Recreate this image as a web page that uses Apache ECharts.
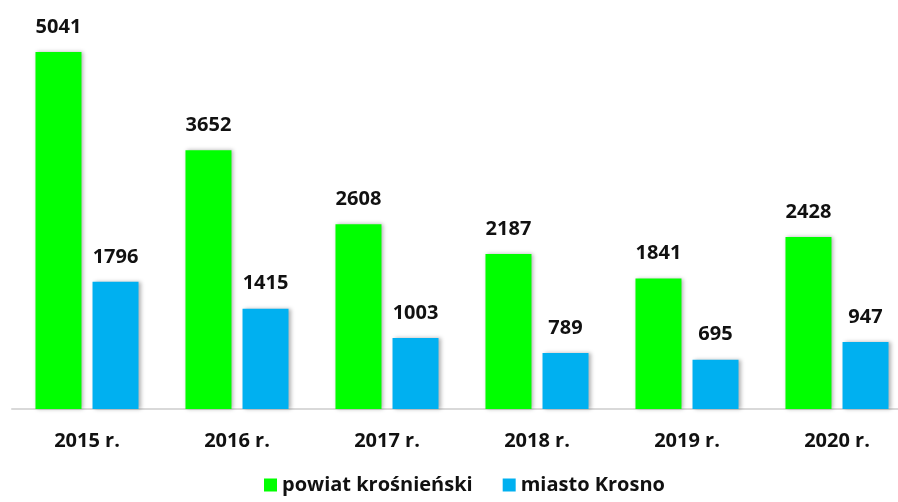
<!DOCTYPE html>
<html>
<head>
<meta charset="utf-8">
<script src="https://cdn.jsdelivr.net/npm/echarts@6/dist/echarts.min.js"></script>
<style>
  html, body { margin: 0; padding: 0; background: #fff; }
  #chart { width: 898px; height: 502px; }
</style>
</head>
<body>
<div id="chart"></div>
<script>
const years = ["2015 r.", "2016 r.", "2017 r.", "2018 r.", "2019 r.", "2020 r."];
const powiat = [5041, 3652, 2608, 2187, 1841, 2428];
const miasto = [1796, 1415, 1003, 789, 695, 947];

const font = "'Open Sans', 'Noto Sans', sans-serif";
const barShadow = {
  shadowBlur: 4,
  shadowColor: "rgba(0,0,0,0.3)",
  shadowOffsetX: 2,
  shadowOffsetY: 0,
};
const valueLabel = {
  show: true,
  position: "top",
  distance: 15,
  color: "#111",
  fontFamily: font,
  fontWeight: "bold",
  fontSize: 20,
};

let myChart = echarts.init(document.getElementById("chart"));
let options = {
  animation: false,
  grid: { left: 12, right: -14, top: 19.5, bottom: 93, outerBoundsMode: "none" },
  xAxis: {
    type: "category",
    data: years,
    axisLine: { lineStyle: { color: "#d9d9d9", width: 2 } },
    axisTick: { show: false },
    axisLabel: {
      margin: 22,
      color: "#111",
      fontFamily: font,
      fontWeight: "bold",
      fontSize: 20,
    },
  },
  yAxis: {
    type: "value",
    min: 0,
    max: 5500,
    show: false,
    splitLine: { show: false },
  },
  legend: {
    bottom: 2,
    left: 259,
    itemWidth: 13,
    itemHeight: 13,
    itemGap: 30,
    icon: "rect",
    textStyle: {
      color: "#111",
      fontFamily: font,
      fontWeight: "bold",
      fontSize: 20,
    },
  },
  series: [
    {
      name: "powiat krośnieński",
      type: "bar",
      data: powiat,
      barWidth: 46,
      barGap: "24%",
      itemStyle: Object.assign({ color: "#00ff00" }, barShadow),
      label: valueLabel,
    },
    {
      name: "miasto Krosno",
      type: "bar",
      data: miasto,
      barWidth: 46,
      itemStyle: Object.assign({ color: "#00b0f0" }, barShadow),
      label: valueLabel,
    },
  ],
};
myChart.setOption(options);
</script>
</body>
</html>
